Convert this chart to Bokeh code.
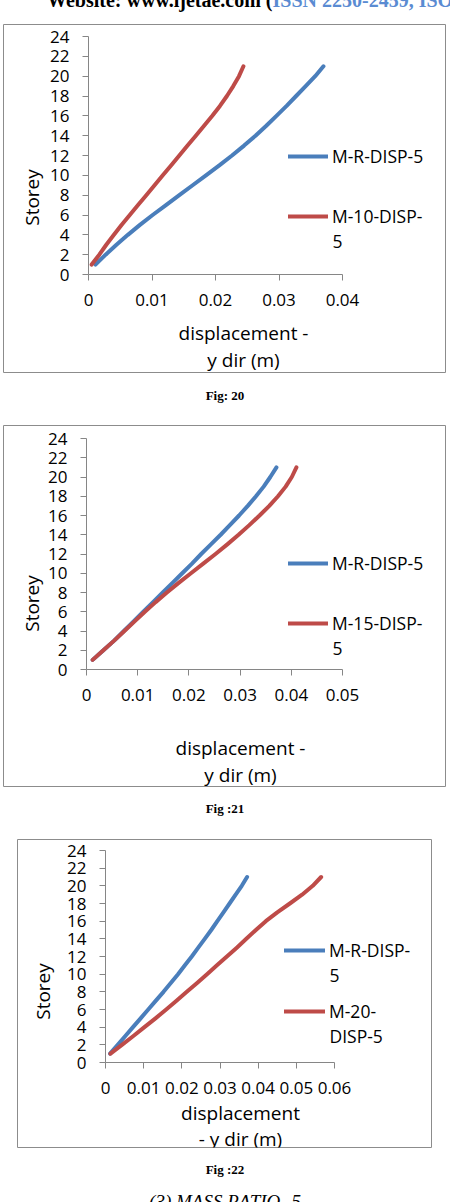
from math import pi
from bokeh.plotting import figure
from bokeh.models import Range1d, FixedTicker, Label, Legend, LegendItem, Div
from bokeh.layouts import column
from bokeh.embed import file_html
from bokeh.resources import INLINE

# ---------------- data ----------------
storeys = list(range(1, 22))

fig20_mr = [0.0011, 0.0027, 0.0044, 0.0062, 0.0081, 0.0101, 0.0122, 0.0143, 0.0164, 0.0185, 0.0206,
            0.0226, 0.0245, 0.0263, 0.0280, 0.0296, 0.0312, 0.0327, 0.0342, 0.0357, 0.0370]
fig20_m10 = [0.0005, 0.0017, 0.0028, 0.0040, 0.0052, 0.0065, 0.0078, 0.0091, 0.0104, 0.0117, 0.0130,
             0.0143, 0.0156, 0.0169, 0.0182, 0.0195, 0.0207, 0.0218, 0.0228, 0.0237, 0.0244]

fig21_mr = [0.0012, 0.0033, 0.0054, 0.0073, 0.0092, 0.0111, 0.0130, 0.0149, 0.0168, 0.0187, 0.0206,
            0.0224, 0.0243, 0.0262, 0.0280, 0.0298, 0.0315, 0.0331, 0.0346, 0.0359, 0.0371]
fig21_m15 = [0.0012, 0.0033, 0.0054, 0.0074, 0.0094, 0.0114, 0.0135, 0.0157, 0.0180, 0.0204, 0.0228,
             0.0252, 0.0275, 0.0297, 0.0318, 0.0338, 0.0357, 0.0374, 0.0389, 0.0401, 0.0410]

fig22_mr = [0.0012, 0.0032, 0.0052, 0.0072, 0.0092, 0.0112, 0.0132, 0.0152, 0.0171, 0.0190, 0.0208,
            0.0226, 0.0243, 0.0260, 0.0277, 0.0293, 0.0309, 0.0325, 0.0341, 0.0357, 0.0371]
fig22_m20 = [0.0013, 0.0043, 0.0073, 0.0102, 0.0131, 0.0159, 0.0186, 0.0213, 0.0240, 0.0266, 0.0292,
             0.0318, 0.0344, 0.0369, 0.0394, 0.0420, 0.0450, 0.0483, 0.0515, 0.0543, 0.0565]

y_ticks = [0, 2, 4, 6, 8, 10, 12, 14, 16, 18, 20, 22, 24]
fig20_xticks = [0, 0.01, 0.02, 0.03, 0.04]
fig20_xlabels = ["0", "0.01", "0.02", "0.03", "0.04"]
fig21_xticks = [0, 0.01, 0.02, 0.03, 0.04, 0.05]
fig21_xlabels = ["0", "0.01", "0.02", "0.03", "0.04", "0.05"]
fig22_xticks = [0, 0.01, 0.02, 0.03, 0.04, 0.05, 0.06]
fig22_xlabels = ["0", "0.01", "0.02", "0.03", "0.04", "0.05", "0.06"]

# ---------------- style ----------------
BLUE = "#4a7ebb"
RED = "#be4b48"
AXIS = "#868686"
BORDER = "#8c8c8c"
FONT = "Open Sans"
TICK_FS = "17px"
LEG_FS = "17.5px"
TITLE_FS = "19px"


def chart(box, axes_box, xmax, xticks, xlabels, ser_a, ser_b, leg_a, leg_b, leg_x, leg_y2,
          leg_gap, glyph_w, conts, titles, storey_pos):
    bx0, by0, bx1, by1 = box            # outer chart box (page px)
    ax0, ay0, ax1, ay1 = axes_box       # where data (0..xmax, 0..24) sits (page px)
    f0x, f0y, f1x, f1y = bx0 + 1, by0 + 1, bx1 - 1, by1 - 1   # frame = box minus 1px
    sx = xmax / (ax1 - ax0)
    sy = 24.0 / (ay1 - ay0)
    x_range = Range1d(-(ax0 - f0x) * sx, xmax + (f1x - ax1) * sx)
    y_range = Range1d(-(f1y - ay1) * sy, 24 + (ay0 - f0y) * sy)
    p = figure(width=bx1 - bx0, height=by1 - by0, output_backend="svg", toolbar_location=None,
               x_range=x_range, y_range=y_range,
               min_border_left=1, min_border_right=1, min_border_top=1, min_border_bottom=1)
    p.outline_line_color = BORDER
    p.outline_line_width = 1
    p.grid.visible = False
    p.background_fill_color = "white"
    p.border_fill_color = "white"

    for ax in (p.xaxis[0], p.yaxis[0]):
        ax.fixed_location = 0
        ax.axis_line_color = AXIS
        ax.major_tick_line_color = AXIS
        ax.minor_tick_line_color = None
        ax.major_tick_in = 0
        ax.major_tick_out = 6
        ax.major_label_text_font = FONT
        ax.major_label_text_font_size = TICK_FS
        ax.major_label_text_color = "black"
    p.yaxis.bounds = (0, 24)
    p.yaxis.ticker = FixedTicker(ticks=y_ticks)
    p.yaxis.major_label_standoff = 13
    p.xaxis.bounds = (0, xmax)
    p.xaxis.ticker = FixedTicker(ticks=xticks)
    p.xaxis.major_label_overrides = {t: l for t, l in zip(xticks, xlabels)}
    p.xaxis.major_label_standoff = 13

    ra = p.line(ser_a, storeys, line_color=BLUE, line_width=4, line_cap="round", line_join="round")
    rb = p.line(ser_b, storeys, line_color=RED, line_width=4, line_cap="round", line_join="round")

    item_h = 24
    legend = Legend(items=[LegendItem(label=leg_a, renderers=[ra]),
                           LegendItem(label=leg_b, renderers=[rb])],
                    location=(leg_x - f0x, f1y - (leg_y2 + item_h / 2)),
                    glyph_width=glyph_w, glyph_height=item_h, label_height=item_h, label_standoff=4,
                    spacing=leg_gap - item_h, padding=0, margin=0,
                    border_line_color=None, background_fill_alpha=0,
                    label_text_font=FONT, label_text_font_size=LEG_FS, label_text_color="black")
    p.add_layout(legend)

    def dx(px):
        return (px - ax0) * sx

    def dy(py):
        return (ay1 - py) * sy

    for txt, (px, py) in conts:
        p.add_layout(Label(x=dx(px), y=dy(py), text=txt, text_align="left", text_baseline="middle",
                           text_font=FONT, text_font_size=LEG_FS, text_color="black"))
    for txt, (px, py) in titles:
        p.add_layout(Label(x=dx(px), y=dy(py), text=txt, text_align="center", text_baseline="middle",
                           text_font=FONT, text_font_size=TITLE_FS, text_color="black"))
    px, py = storey_pos
    p.add_layout(Label(x=dx(px), y=dy(py), text="Storey", angle=pi / 2, text_align="center",
                       text_baseline="middle", text_font=FONT, text_font_size=TITLE_FS,
                       text_color="black"))
    return p


p1 = chart((2, 23, 446, 373), (88, 36, 342, 274), 0.04, fig20_xticks, fig20_xlabels,
           fig20_mr, fig20_m10, "M-R-DISP-5", "M-10-DISP-", 288, 216, 60, 40,
           [("5", (332, 241))],
           [("displacement -", (243, 332)), ("y dir (m)", (243, 359))], (31, 197))
p2 = chart((2, 424, 446, 787), (86, 438, 342, 669), 0.05, fig21_xticks, fig21_xlabels,
           fig21_mr, fig21_m15, "M-R-DISP-5", "M-15-DISP-", 288, 623, 60, 40,
           [("5", (332, 648))],
           [("displacement -", (240, 747)), ("y dir (m)", (240, 774))], (31, 603))
p3 = chart((16, 838, 432, 1148), (105, 850, 334, 1062), 0.06, fig22_xticks, fig22_xlabels,
           fig22_mr, fig22_m20, "M-R-DISP-", "M-20-", 284, 1011, 61, 41,
           [("5", (329, 975)), ("DISP-5", (329, 1035))],
           [("displacement", (240, 1112)), ("- y dir (m)", (240, 1138))], (42, 991))
p1.margin = (0, 0, 0, 2)
p2.margin = (0, 0, 0, 2)
p3.margin = (0, 0, 0, 16)

SERIF = "'Liberation Serif', 'Times New Roman', serif"
header = Div(width=450, height=23, margin=0, styles={"overflow": "hidden"},
             text=("<div style=\"position:relative; top:-10px; left:47px; white-space:nowrap; "
                   "font: bold 20px " + SERIF + "; line-height:20px; color:#000;\">Website: www.ijetae.com ("
                   "<span style=\"color:#5a8bd2\">ISSN 2250-2459, ISO 9001:2008 Certified Journal</span>"
                   "</div>"))


def caption(txt, h, pad, extra=""):
    return Div(width=450, height=h, margin=0, styles={"overflow": "hidden"},
               text=("<div style=\"width:450px; text-align:center; padding-top:" + str(pad) + "px; "
                     "font: bold 13px " + SERIF + "; line-height:15px; color:#000;\">" + txt + "</div>" + extra))


cap1 = caption("Fig: 20", 51, 15)
cap2 = caption("Fig :21", 51, 14)
cap3 = caption("Fig :22", 54, 14,
               "<div style=\"width:450px; text-align:center; margin-top:14px; line-height:22px; "
               "font: italic 19px " + SERIF + "; color:#000;\">(3) MASS RATIO- 5</div>")

layout = column(header, p1, cap1, p2, cap2, p3, cap3, spacing=0, margin=0)

open("out.html", "w").write(file_html(layout, INLINE))
